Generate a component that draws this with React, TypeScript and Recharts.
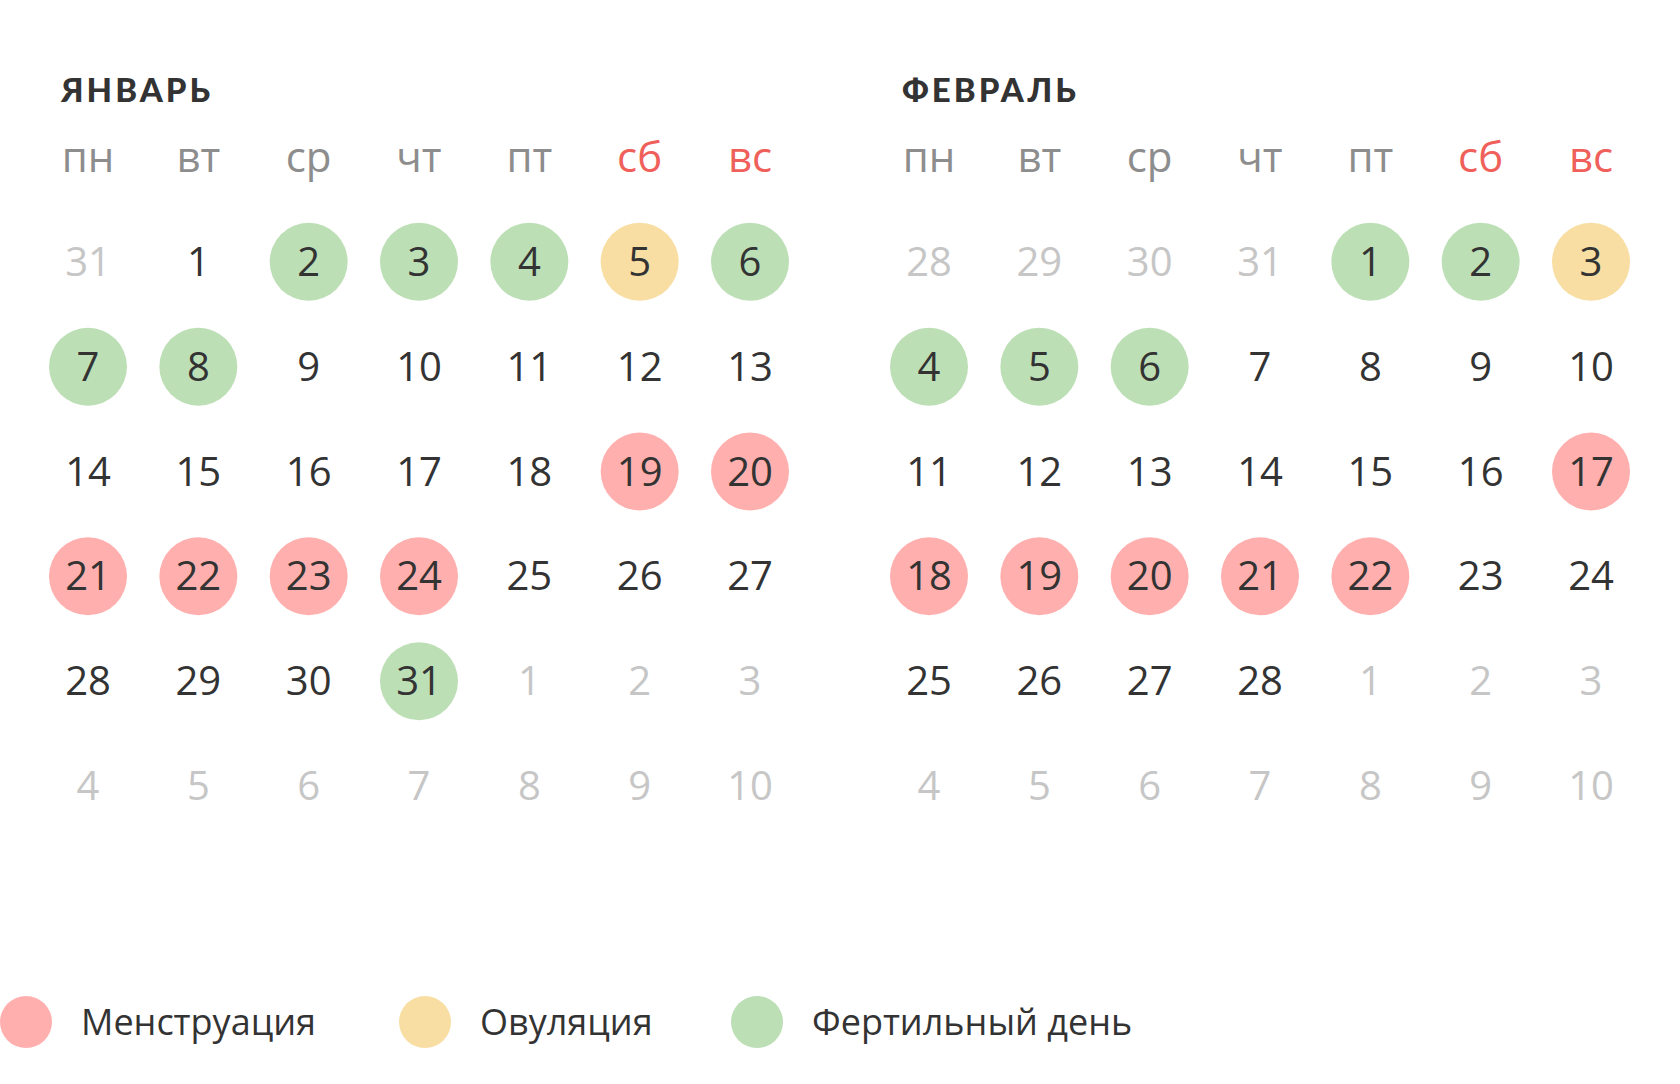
import React from 'react';
import { ScatterChart, Scatter, XAxis, YAxis } from 'recharts';

const weekdays = ['пн', 'вт', 'ср', 'чт', 'пт', 'сб', 'вс'];

const janTitle = 'ЯНВАРЬ';
const janDays = [
  31, 1, 2, 3, 4, 5, 6,
  7, 8, 9, 10, 11, 12, 13,
  14, 15, 16, 17, 18, 19, 20,
  21, 22, 23, 24, 25, 26, 27,
  28, 29, 30, 31, 1, 2, 3,
  4, 5, 6, 7, 8, 9, 10,
];
// x = other month, f = fertile, o = ovulation, m = menstruation, '' = regular
const janStatus = [
  'x', '', 'f', 'f', 'f', 'o', 'f',
  'f', 'f', '', '', '', '', '',
  '', '', '', '', '', 'm', 'm',
  'm', 'm', 'm', 'm', '', '', '',
  '', '', '', 'f', 'x', 'x', 'x',
  'x', 'x', 'x', 'x', 'x', 'x', 'x',
];

const febTitle = 'ФЕВРАЛЬ';
const febDays = [
  28, 29, 30, 31, 1, 2, 3,
  4, 5, 6, 7, 8, 9, 10,
  11, 12, 13, 14, 15, 16, 17,
  18, 19, 20, 21, 22, 23, 24,
  25, 26, 27, 28, 1, 2, 3,
  4, 5, 6, 7, 8, 9, 10,
];
const febStatus = [
  'x', 'x', 'x', 'x', 'f', 'f', 'o',
  'f', 'f', 'f', '', '', '', '',
  '', '', '', '', '', '', 'm',
  'm', 'm', 'm', 'm', 'm', '', '',
  '', '', '', '', 'x', 'x', 'x',
  'x', 'x', 'x', 'x', 'x', 'x', 'x',
];

const legendLabels = ['Менструация', 'Овуляция', 'Фертильный день'];
const legendKeys = ['m', 'o', 'f'];

const FILL: Record<string, string> = { m: '#ffb0ae', o: '#f8dea3', f: '#bddfb6' };
const DARK = '#333333';
const GREY = '#c6c6c6';
const HEAD_GREY = '#8d8d8d';
const HEAD_RED = '#f0605b';
const DIGIT_FONT = '"Open Sans", sans-serif';

const CellShape = (props: any) => {
  const { cx, cy, payload } = props;
  if (cx == null || cy == null) return null;
  const st = payload.status;
  return (
    <g>
      {FILL[st] ? <circle cx={cx} cy={cy} r={39} fill={FILL[st]} /> : null}
      <text
        x={cx}
        y={cy}
        dy={14}
        textAnchor="middle"
        fontFamily={DIGIT_FONT}
        fontSize={40}
        fill={st === 'x' ? GREY : DARK}
      >
        {payload.day}
      </text>
    </g>
  );
};

const HeaderShape = (props: any) => {
  const { cx, cy, payload } = props;
  if (cx == null || cy == null) return null;
  return (
    <text
      x={cx}
      y={cy}
      dy={15}
      textAnchor="middle"
      fontFamily={DIGIT_FONT}
      fontSize={42}
      fill={payload.weekend ? HEAD_RED : HEAD_GREY}
    >
      {payload.label}
    </text>
  );
};

function Month({ title, days, status, left }: { title: string; days: number[]; status: string[]; left: number }) {
  const cells = days.map((d, i) => ({ x: i % 7, y: Math.floor(i / 7), day: d, status: status[i] }));
  const headers = weekdays.map((w, i) => ({ x: i, y: -1, label: w, weekend: i >= 5 }));
  return (
    <div style={{ position: 'absolute', left, top: 0, width: 840, height: 860 }}>
      <svg width={840} height={120} style={{ position: 'absolute', left: 0, top: 0 }}>
        <text
          x={61}
          y={102}
          fontFamily='Lato, sans-serif'
          fontWeight={900}
          fontSize={33}
          letterSpacing={3}
          fill={DARK}
        >
          {title}
        </text>
      </svg>
      <div style={{ position: 'absolute', left: 0, top: 0 }}>
        <ScatterChart width={840} height={860} margin={{ top: 157, right: 90, bottom: 74, left: 88 }}>
          <XAxis dataKey="x" type="number" domain={[0, 6]} hide />
          <YAxis dataKey="y" type="number" domain={[-1, 5]} reversed hide />
          <Scatter data={headers} shape={HeaderShape} isAnimationActive={false} />
          <Scatter data={cells} shape={CellShape} isAnimationActive={false} />
        </ScatterChart>
      </div>
    </div>
  );
}

const legendX = [26, 425, 757];

export default function App() {
  return (
    <div style={{ position: 'absolute', left: 0, top: 0, width: 1680, height: 1084, background: '#ffffff', overflow: 'hidden' }}>
      <Month title={janTitle} days={janDays} status={janStatus} left={0} />
      <Month title={febTitle} days={febDays} status={febStatus} left={841} />
      <svg width={1680} height={120} style={{ position: 'absolute', left: 0, top: 964 }}>
        {legendLabels.map((lab, i) => (
          <g key={lab}>
            <circle cx={legendX[i]} cy={58} r={26} fill={FILL[legendKeys[i]]} />
            <text
              x={legendX[i] + 55}
              y={58}
              dy={13}
              fontFamily={DIGIT_FONT}
              fontSize={36}
              fill={DARK}
            >
              {lab}
            </text>
          </g>
        ))}
      </svg>
    </div>
  );
}
